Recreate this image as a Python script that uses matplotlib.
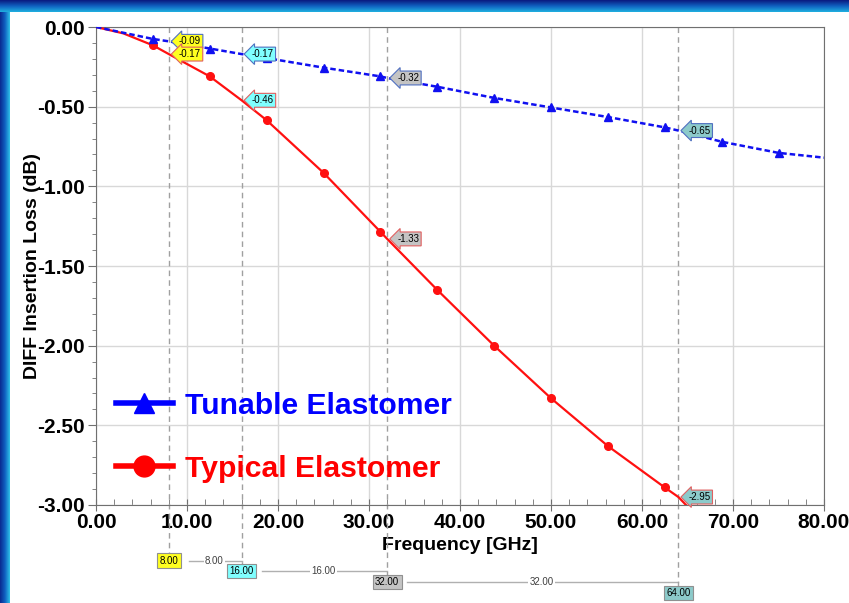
import numpy as np
import matplotlib
matplotlib.use("Agg")
import matplotlib.pyplot as plt
from matplotlib.lines import Line2D
from matplotlib.transforms import blended_transform_factory

plt.rcParams['font.family'] = ['Liberation Sans', 'DejaVu Sans']

# marker points (every 6.25 GHz)
mk_freq = [6.25, 12.5, 18.75, 25.0, 31.25, 37.5, 43.75, 50.0, 56.25, 62.5, 68.75, 75.0]
tunable_mk = [-0.075, -0.135, -0.195, -0.255, -0.31, -0.375, -0.445, -0.505, -0.565, -0.63, -0.72, -0.79]
typical_mk = [-0.115, -0.31, -0.585, -0.915, -1.285, -1.65, -2.00, -2.33, -2.63, -2.89]

# line data (markers + marker-readout points + ends)
tun_freq = [0, 6.25, 8, 12.5, 16, 18.75, 25, 31.25, 32, 37.5, 43.75, 50, 56.25, 62.5, 64, 68.75, 75, 80]
tun_val = [0, -0.075, -0.09, -0.135, -0.17, -0.195, -0.255, -0.31, -0.32, -0.375, -0.445, -0.505,
           -0.565, -0.63, -0.65, -0.72, -0.79, -0.82]
typ_freq = [0, 3, 6.25, 8, 12.5, 16, 18.75, 25, 31.25, 32, 37.5, 43.75, 50, 56.25, 62.5, 64, 66.5]
typ_val = [0, -0.04, -0.115, -0.17, -0.31, -0.46, -0.585, -0.915, -1.285, -1.33, -1.65, -2.00, -2.33,
           -2.63, -2.89, -2.95, -3.1]

# marker readouts
mk_x = [8, 16, 32, 64]
mk_tun = [-0.09, -0.17, -0.32, -0.65]
mk_typ = [-0.17, -0.46, -1.33, -2.95]
mk_colors = ['#ffff20', '#80ffff', '#c4c4c4', '#8ccaca']

fig = plt.figure(figsize=(8.49, 6.03), dpi=100)

# blue frame
top = fig.add_axes([0, 1 - 12 / 603, 1, 12 / 603])
grad = np.linspace(0, 1, 50).reshape(-1, 1)
top.imshow(grad, aspect='auto', cmap=matplotlib.colors.LinearSegmentedColormap.from_list(
    'a', ['#0a1a80', '#1060c0', '#20b0e0']), extent=[0, 1, 0, 1])
top.axis('off')
left = fig.add_axes([0, 0, 10 / 849, 1 - 12 / 603])
left.imshow(grad.T, aspect='auto', cmap=matplotlib.colors.LinearSegmentedColormap.from_list(
    'b', ['#0a2a90', '#1060c0', '#30c0e8']), extent=[0, 1, 0, 1])
left.axis('off')

ax = fig.add_axes([96 / 849, 1 - 505 / 603, (824 - 96) / 849, (505 - 27) / 603])

ax.plot(typ_freq, typ_val, color='#ff1010', lw=1.6, zorder=3)
ax.plot(mk_freq[:len(typical_mk)], typical_mk, 'o', color='#ff1010', ms=5.5, zorder=4)
ax.plot(tun_freq, tun_val, color='#1010f0', lw=1.8, ls=(0, (2.2, 1.2)), zorder=3)
ax.plot(mk_freq, tunable_mk, '^', color='#1010f0', ms=6, zorder=4)

ax.set_xlim(0, 80)
ax.set_ylim(-3, 0)
ax.set_xticks(np.arange(0, 81, 10))
ax.set_xticks(np.arange(0, 81, 2), minor=True)
ax.set_yticks(np.arange(-3, 0.01, 0.5))
ax.set_yticks(np.arange(-3, 0.01, 0.1), minor=True)
ax.xaxis.set_major_formatter(matplotlib.ticker.FormatStrFormatter('%.2f'))
ax.yaxis.set_major_formatter(matplotlib.ticker.FormatStrFormatter('%.2f'))
ax.grid(True, which='major', color='#d8d8d8', lw=1)
ax.set_axisbelow(True)
for s in ax.spines.values():
    s.set_color('#707070')
ax.tick_params(axis='x', which='major', direction='inout', length=8, labelsize=15, pad=2, color='#707070')
ax.tick_params(axis='x', which='minor', direction='in', length=4, color='#707070')
ax.tick_params(axis='y', which='major', direction='out', length=6, labelsize=15, pad=2, color='#707070')
ax.tick_params(axis='y', which='minor', direction='out', length=3, color='#707070')
for lab in ax.get_xticklabels() + ax.get_yticklabels():
    lab.set_fontweight('bold')
ax.set_xlabel('Frequency [GHz]', fontsize=14, fontweight='bold', labelpad=3)
ax.set_ylabel('DIFF Insertion Loss (dB)', fontsize=14, fontweight='bold', labelpad=-3)

# marker lines and readouts
tr = blended_transform_factory(ax.transData, ax.transAxes)
rows = [-0.117, -0.138, -0.161, -0.184]
for i, x in enumerate(mk_x):
    ax.plot([x, x], [1, rows[i]], transform=tr, color='#a0a0a0', lw=1, ls=(0, (4, 3)), clip_on=False, zorder=2)
    ax.text(x + 1.1, mk_tun[i], '%.2f' % mk_tun[i], fontsize=7, ha='left', va='center', zorder=6,
            bbox=dict(boxstyle='larrow,pad=0.2', fc=mk_colors[i], ec='#5070c0', lw=0.8))
    ax.text(x + 1.1, mk_typ[i], '%.2f' % mk_typ[i], fontsize=7, ha='left', va='center', zorder=6,
            bbox=dict(boxstyle='larrow,pad=0.2', fc=mk_colors[i], ec='#e06060', lw=0.8))
    ax.text(x, rows[i], '%.2f' % x, transform=tr, fontsize=7, ha='center', va='center',
            clip_on=False, bbox=dict(boxstyle='square,pad=0.25', fc=mk_colors[i], ec='#909090', lw=0.8))
    if i < len(mk_x) - 1:
        x2 = mk_x[i + 1]
        ax.plot([x + 2.2, x2], [rows[i], rows[i]], transform=tr, color='#b0b0b0', lw=1, clip_on=False, zorder=1)
        ax.text((x + x2) / 2 + 1, rows[i], '%.2f' % (x2 - x), transform=tr, fontsize=7, color='#404040',
                ha='center', va='center', clip_on=False, bbox=dict(fc='white', ec='none', pad=1))

handles = [Line2D([], [], color='#0000ff', lw=4, marker='^', ms=15),
           Line2D([], [], color='#ff0000', lw=4, marker='o', ms=15)]
ax.legend(handles, ['Tunable Elastomer', 'Typical Elastomer'], loc='lower left',
          bbox_to_anchor=(-0.01, -0.01), frameon=False, handlelength=1.9, labelspacing=1.15,
          prop=dict(size=21.7, weight='bold'), labelcolor=['#0000ff', '#ff0000'], handletextpad=0.4)

fig.savefig('out.png', dpi=100)
